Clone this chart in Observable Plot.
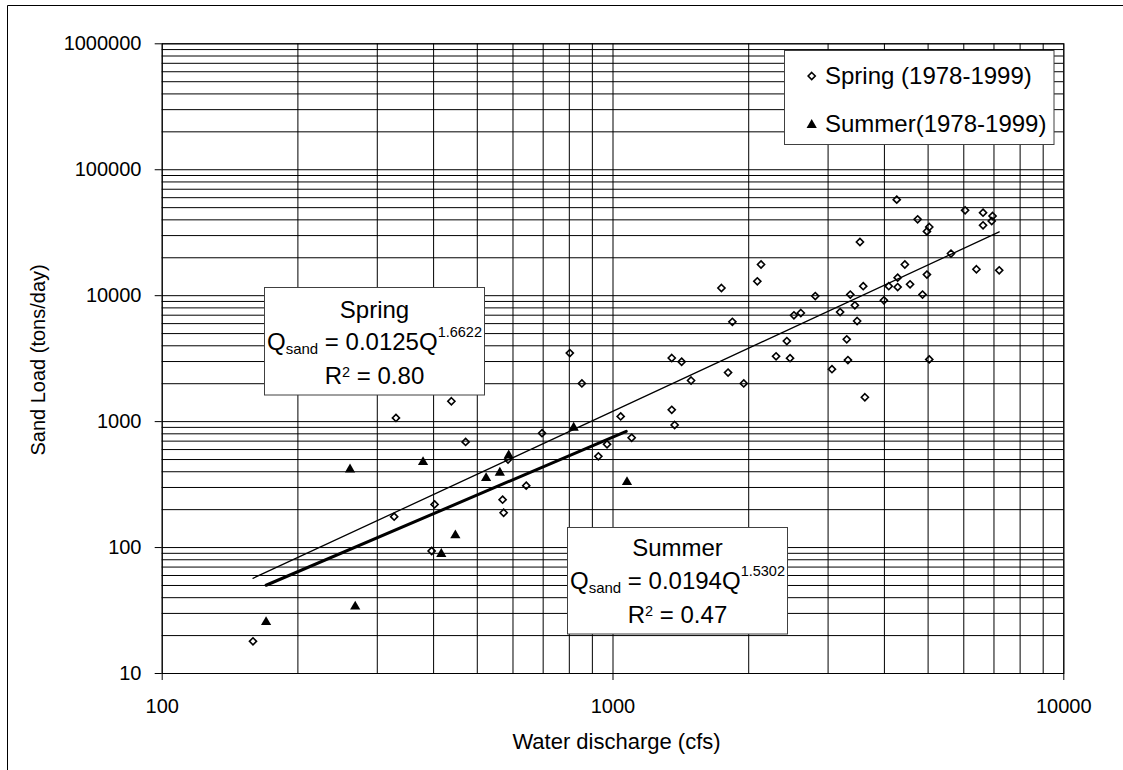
<!DOCTYPE html>
<html>
<head>
<meta charset="utf-8">
<script src="https://cdn.jsdelivr.net/npm/d3@7"></script>
<script src="https://cdn.jsdelivr.net/npm/@observablehq/plot@0.6"></script>
<style>
html, body { margin: 0; padding: 0; background: #fff; }
#chart { width: 1123px; height: 770px; overflow: hidden; }
</style>
</head>
<body>
<div id="chart"></div>
<script>
// ---- data ----
const springQ = [159, 330, 438, 471, 696, 585, 642, 569, 572, 402,
  327, 396, 802, 853, 1350, 1420, 1490, 1800, 1950, 1840,
  1740, 2090, 2130, 2300, 2470, 2430, 2520, 2610, 2810, 3190,
  3300, 3320, 3060, 3620, 3480, 3440, 3360, 3590, 3530, 3990,
  4090, 4280, 4280, 4560, 4860, 4440, 4970, 5030, 4260, 4740,
  5030, 4970, 5620, 6040, 6620, 6950, 6920, 6620, 6400, 7190,
  1350, 1370, 1040, 970, 928, 1100];
const springLoad = [18, 1070, 1450, 690, 810, 500, 310, 240, 189, 220,
  176, 94, 3500, 2010, 3200, 2990, 2120, 2450, 2010, 6200,
  11500, 13000, 17700, 3300, 3190, 4360, 6980, 7280, 9930, 7410,
  4500, 3080, 2610, 1560, 6290, 8380, 10200, 11900, 26700, 9180,
  11900, 11700, 13900, 12300, 10200, 17700, 14700, 3120, 57900, 40400,
  35100, 32400, 21600, 47600, 45600, 42900, 39100, 36200, 16200, 15900,
  1240, 940, 1100, 660, 530, 745];

const summerQ = [170, 268, 261, 379, 523, 561, 587, 447, 416, 818, 1074];
const summerLoad = [25.6, 34, 417, 477, 356, 393, 539, 125, 89, 894, 331];

// fitted power-law trend lines (end points)
const springFitQ = [159, 7190];
const springFitLoad = [57.0, 32100];
const summerFitQ = [170, 1070];
const summerFitLoad = [50.2, 838];

const xTicks = [100, 1000, 10000];
const yTicks = [10, 100, 1000, 10000, 100000, 1000000];
const gridMultipliers = [1, 2, 3, 4, 5, 6, 7, 8, 9];

const legendLabels = ["Spring (1978-1999)", "Summer(1978-1999)"];
const xTitle = "Water discharge (cfs)";
const yTitle = "Sand Load (tons/day)";

// ---- tables for the library ----
const spring = springQ.map((q, i) => ({q, load: springLoad[i]}));
const summer = summerQ.map((q, i) => ({q, load: summerLoad[i]}));
const springFit = springFitQ.map((q, i) => ({q, load: springFitLoad[i]}));
const summerFit = summerFitQ.map((q, i) => ({q, load: summerFitLoad[i]}));
const gridFrom = (ticks) => ticks.slice(0, -1).flatMap(d => gridMultipliers.map(m => d * m)).concat(ticks.slice(-1));
const xGrid = gridFrom(xTicks);
const yGrid = gridFrom(yTicks);

const FONT = "'Liberation Sans', Arial, Helvetica, sans-serif";
const DIAMOND_R = 3.2, TRIANGLE_R = 3.8;

const chart = Plot.plot({
  width: 1123,
  height: 770,
  marginLeft: 161.7,
  marginRight: 59.7,
  marginTop: 43.3,
  marginBottom: 97,
  style: {fontFamily: FONT, background: "#fff", color: "#000", overflow: "visible"},
  x: {type: "log", domain: [100, 10000]},
  y: {type: "log", domain: [10, 1000000]},
  marks: [
    Plot.ruleX(xGrid, {stroke: "#000", strokeWidth: 1}),
    Plot.ruleY(yGrid, {stroke: "#000", strokeWidth: 1}),
    Plot.frame({stroke: "#000", strokeWidth: 1}),
    Plot.axisX({ticks: xTicks, tickFormat: d => String(d), tickSize: 7, tickPadding: 18, fontSize: 20, label: null, stroke: "#000"}),
    Plot.axisY({ticks: yTicks, tickFormat: d => String(d), tickSize: 7, tickPadding: 13.7, fontSize: 20, label: null, stroke: "#000"}),
    Plot.line(springFit, {x: "q", y: "load", stroke: "#000", strokeWidth: 1.3}),
    Plot.line(summerFit, {x: "q", y: "load", stroke: "#000", strokeWidth: 3}),
    Plot.dot(spring, {x: "q", y: "load", symbol: "diamond2", r: DIAMOND_R, stroke: "#000", strokeWidth: 1.6, fill: "none"}),
    Plot.dot(summer, {x: "q", y: "load", symbol: "triangle", r: TRIANGLE_R, fill: "#000", stroke: "none"}),
    Plot.text([xTitle], {frameAnchor: "bottom", textAnchor: "middle", lineAnchor: "middle", dx: 3.5, dy: 68, fontSize: 22, fill: "#000"}),
    Plot.text([yTitle], {frameAnchor: "left", textAnchor: "middle", lineAnchor: "middle", rotate: -90, dx: -123.2, dy: 1.3, fontSize: 20, fill: "#000"})
  ]
});

document.getElementById("chart").appendChild(chart);

// ---- annotations: page border, legend, equation boxes ----
const svg = d3.select(chart);
const ann = svg.append("g").attr("font-family", FONT).attr("fill", "#000").attr("text-anchor", "start");

ann.append("path").attr("d", "M7.5,770V5.5H1123").attr("fill", "none").attr("stroke", "#000").attr("stroke-width", 1);

// legend
ann.append("rect").attr("x", 784.5).attr("y", 50.5).attr("width", 269.5).attr("height", 94)
  .attr("fill", "#fff").attr("stroke", "#404040").attr("stroke-width", 1);
ann.append("path").attr("d", d3.symbol(d3.symbolDiamond2, Math.PI * DIAMOND_R * DIAMOND_R)())
  .attr("transform", "translate(811.7,76)").attr("fill", "none").attr("stroke", "#000").attr("stroke-width", 1.6);
ann.append("path").attr("d", d3.symbol(d3.symbolTriangle, Math.PI * TRIANGLE_R * TRIANGLE_R)())
  .attr("transform", "translate(811.7,125)").attr("fill", "#000");
ann.append("text").attr("x", 825).attr("y", 84.3).attr("font-size", 24).attr("text-anchor", "start").text(legendLabels[0]);
ann.append("text").attr("x", 825).attr("y", 131.5).attr("font-size", 24).attr("text-anchor", "start").text(legendLabels[1]);

function eqBox(x, y, w, h, title, coef, expo, r2, offs) {
  const cx = x + w / 2;
  ann.append("rect").attr("x", x).attr("y", y).attr("width", w).attr("height", h)
    .attr("fill", "#fff").attr("stroke", "#404040").attr("stroke-width", 1);
  ann.append("text").attr("x", cx).attr("y", y + offs[0]).attr("text-anchor", "middle").attr("font-size", 24).text(title);
  const t2 = ann.append("text").attr("x", cx).attr("y", y + offs[1]).attr("text-anchor", "middle").attr("font-size", 24);
  t2.append("tspan").text("Q");
  t2.append("tspan").attr("font-size", 15).attr("dy", 4).text("sand");
  t2.append("tspan").attr("dy", -4).text(" = " + coef + "Q");
  t2.append("tspan").attr("font-size", 14.5).attr("dy", -12.6).text(expo);
  const t3 = ann.append("text").attr("x", cx).attr("y", y + offs[2]).attr("text-anchor", "middle").attr("font-size", 24);
  t3.append("tspan").text("R");
  t3.append("tspan").attr("font-size", 14.5).attr("dy", -7).text("2");
  t3.append("tspan").attr("dy", 7).text(" = " + r2);
}
eqBox(264.5, 287.5, 220, 107.5, "Spring", "0.0125", "1.6622", "0.80", [30, 62, 96.5]);
eqBox(567.5, 527.5, 220, 106.5, "Summer", "0.0194", "1.5302", "0.47", [28, 61, 95.2]);
</script>
</body>
</html>
